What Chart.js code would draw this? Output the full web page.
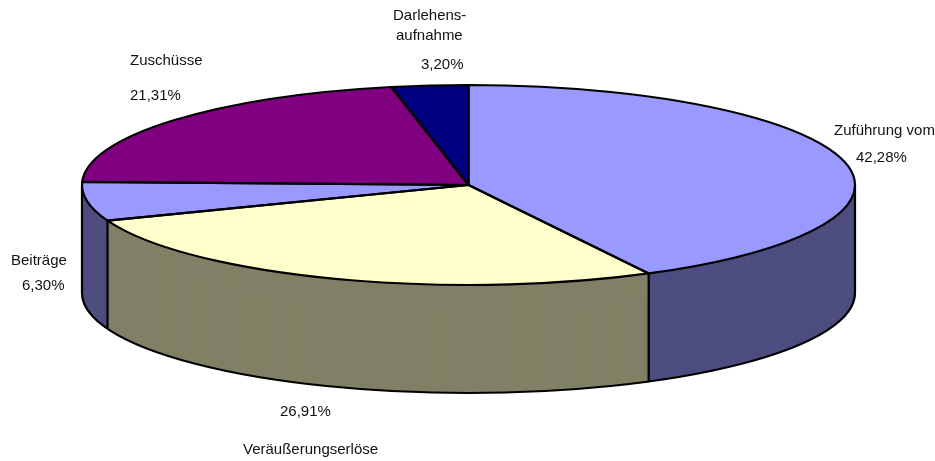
<!DOCTYPE html>
<html><head><meta charset="utf-8">
<style>html,body{margin:0;padding:0;background:#fff}#wrap{width:935px;height:461px;position:relative}</style>
<script src="https://cdn.jsdelivr.net/npm/chart.js@4"></script>
</head><body><div id="wrap"><canvas id="c" width="935" height="461"></canvas></div>
<script>
const categories = ['Zuführung vom','Veräußerungserlöse','Beiträge','Zuschüsse','Darlehensaufnahme'];
const shares = [42.28,26.91,6.30,21.31,3.20];
const topColors = ['#9999FF','#FFFFCC','#9999FF','#800080','#000080'];
const sideColors = ['#4D4D80','#808066','#4D4D80','#400040','#000040'];
const labelLines = [
  ['Zuführung vom',834,135],['42,28%',856,162],
  ['Veräußerungserlöse',243,454],['26,91%',280,416],
  ['Beiträge',11,265],['6,30%',22,290],
  ['Zuschüsse',130,65],['21,31%',130,100],
  ['Darlehens-',393,20],['aufnahme',396,40],['3,20%',421,69]
];
const CX=468.5, CY=185, RX=386.5, RY=100, DEPTH=108, LW=2.2;

function place(ctx,el,dy){
  const r=el.outerRadius;
  ctx.translate(CX,CY+dy);
  ctx.scale(RX/r,RY/r);
  ctx.translate(-el.x,-el.y);
}
function sector(ctx,el,dy){
  ctx.save();
  place(ctx,el,dy);
  ctx.beginPath();
  ctx.moveTo(el.x,el.y);
  ctx.arc(el.x,el.y,el.outerRadius,el.startAngle,el.endAngle);
  ctx.closePath();
  ctx.restore();
}
function rimPoint(el,a){
  return [CX+RX*Math.cos(a), CY+RY*Math.sin(a)];
}
const pie3d={
  id:'pie3d',
  beforeDatasetsDraw(chart){
    const ctx=chart.ctx, els=chart.getDatasetMeta(0).data;
    ctx.save();
    ctx.lineJoin='round';
    for(let d=DEPTH;d>=1;d--){
      els.forEach((el,i)=>{
        ctx.fillStyle=sideColors[i];
        sector(ctx,el,d);
        ctx.fill();
      });
    }
    ctx.strokeStyle='#000';
    ctx.lineWidth=LW;
    const el0=els[0];
    ctx.save();
    place(ctx,el0,DEPTH);
    ctx.beginPath();
    ctx.arc(el0.x,el0.y,el0.outerRadius,0,Math.PI);
    ctx.restore();
    ctx.stroke();
    const edges=[0,Math.PI];
    els.forEach(el=>{
      const a=((el.endAngle%(2*Math.PI))+2*Math.PI)%(2*Math.PI);
      if(a>0.001&&a<Math.PI) edges.push(a);
    });
    edges.forEach(a=>{
      const p=rimPoint(el0,a);
      ctx.beginPath();
      ctx.moveTo(p[0],p[1]);
      ctx.lineTo(p[0],p[1]+DEPTH);
      ctx.stroke();
    });
    els.forEach((el,i)=>{
      ctx.fillStyle=topColors[i];
      sector(ctx,el,0);
      ctx.fill();
    });
    els.forEach(el=>{
      sector(ctx,el,0);
      ctx.stroke();
    });
    ctx.restore();
    return false;
  },
  afterDraw(chart){
    const ctx=chart.ctx;
    ctx.save();
    ctx.fillStyle='#111';
    ctx.font='15px "Liberation Sans", Arial, sans-serif';
    ctx.textAlign='left';
    ctx.textBaseline='alphabetic';
    labelLines.forEach(l=>ctx.fillText(l[0],l[1],l[2]));
    ctx.restore();
  }
};
new Chart(document.getElementById('c'),{
  type:'pie',
  data:{labels:categories,datasets:[{data:shares,backgroundColor:topColors,borderWidth:0}]},
  options:{
    responsive:false,animation:false,
    plugins:{legend:{display:false},tooltip:{enabled:false},title:{display:false}}
  },
  plugins:[pie3d]
});
</script></body></html>
